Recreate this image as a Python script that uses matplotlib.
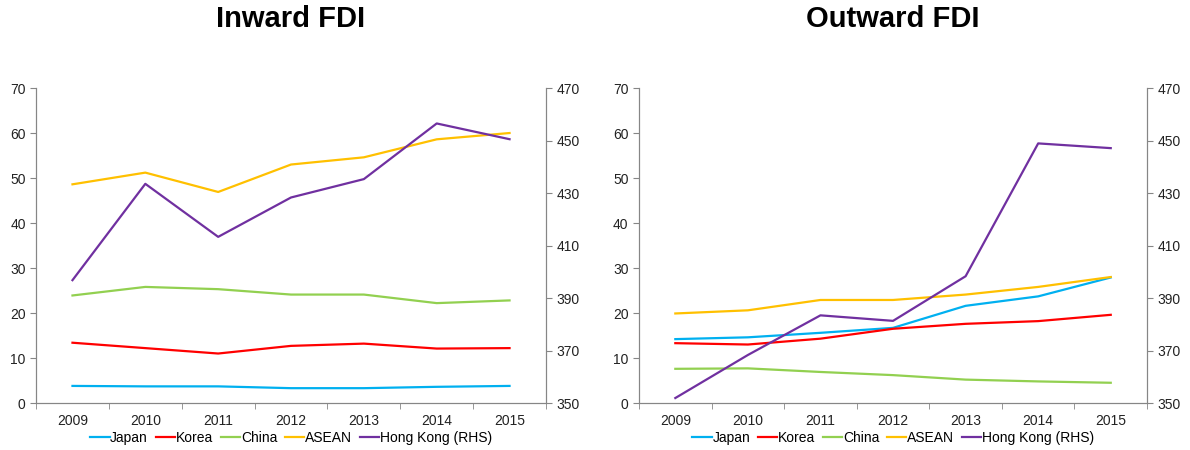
import numpy as np
import matplotlib.pyplot as plt

plt.rcParams['font.family'] = ['Liberation Sans', 'DejaVu Sans']

years = ['2009', '2010', '2011', '2012', '2013', '2014', '2015']

# Inward FDI
in_japan = [3.8, 3.7, 3.7, 3.3, 3.3, 3.6, 3.8]
in_korea = [13.4, 12.2, 11.0, 12.7, 13.2, 12.1, 12.2]
in_china = [23.9, 25.8, 25.3, 24.1, 24.1, 22.2, 22.8]
in_asean = [48.6, 51.2, 46.9, 53.0, 54.6, 58.6, 60.0]
in_hk = [396.8, 433.5, 413.3, 428.3, 435.3, 456.5, 450.5]

# Outward FDI
out_japan = [14.2, 14.6, 15.6, 16.7, 21.6, 23.7, 27.9]
out_korea = [13.3, 13.0, 14.3, 16.5, 17.6, 18.2, 19.6]
out_china = [7.6, 7.7, 6.9, 6.2, 5.2, 4.8, 4.5]
out_asean = [19.9, 20.6, 22.9, 22.9, 24.1, 25.8, 28.0]
out_hk = [351.9, 368.3, 383.4, 381.3, 398.3, 448.9, 447.1]

names = ['Japan', 'Korea', 'China', 'ASEAN', 'Hong Kong (RHS)']
colors = ['#00B0F0', '#FF0000', '#92D050', '#FFC000', '#7030A0']
spine_col = '#868686'

fig = plt.figure(figsize=(11.9, 4.5), dpi=100)


def panel(rect, title, lhs, rhs):
    ax = fig.add_axes(rect)
    ax2 = ax.twinx()
    x = np.arange(len(years))
    handles = []
    for vals, name, c in zip(lhs, names[:4], colors[:4]):
        h, = ax.plot(x, vals, color=c, lw=1.6, label=name)
        handles.append(h)
    h, = ax2.plot(x, rhs, color=colors[4], lw=1.6, label=names[4])
    handles.append(h)

    ax.set_xlim(-0.5, len(years) - 0.5)
    ax.set_ylim(0, 70)
    ax.set_yticks(np.arange(0, 71, 10))
    ax2.set_ylim(350, 470)
    ax2.set_yticks(np.arange(350, 471, 20))
    ax.set_xticks(x)
    ax.set_xticklabels(years)
    ax.set_xticks(np.arange(-0.5, len(years), 1), minor=True)
    ax.tick_params(axis='x', which='major', length=0, pad=8)
    ax.tick_params(axis='x', which='minor', length=4, color=spine_col, direction='out')

    for a in (ax, ax2):
        a.spines['top'].set_visible(False)
        for s in ('left', 'right', 'bottom'):
            a.spines[s].set_color(spine_col)
        a.tick_params(axis='y', length=4, color=spine_col, labelsize=10, labelcolor='#222222')
        a.tick_params(axis='x', labelsize=10, labelcolor='#222222')

    ax.set_title(title, fontsize=21, fontweight='bold', pad=44)
    ax.legend(handles=handles, loc='center', bbox_to_anchor=(0.5, -0.11),
              ncol=5, frameon=False, fontsize=10, handlelength=1.4,
              handletextpad=0.05, columnspacing=0.55)


panel([0.0303, 0.1044, 0.4285, 0.70], 'Inward FDI',
      [in_japan, in_korea, in_china, in_asean], in_hk)
panel([0.537, 0.1044, 0.4269, 0.70], 'Outward FDI',
      [out_japan, out_korea, out_china, out_asean], out_hk)

fig.savefig('out.png', dpi=100)
